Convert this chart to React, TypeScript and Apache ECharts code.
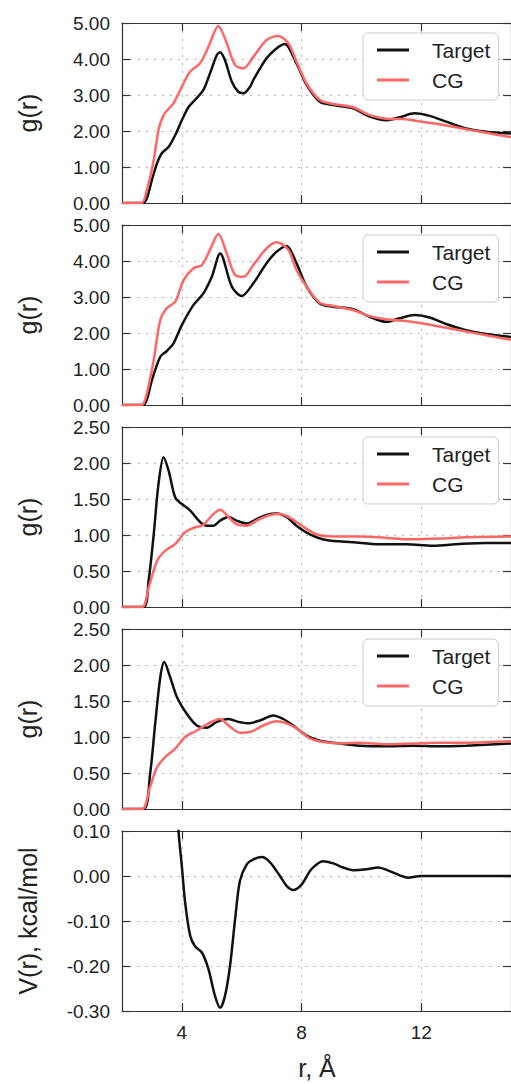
import React, { useEffect, useRef } from "react";
import * as echarts from "echarts";

// ---- data (r in Å, value) ----
const xTicks = [4, 8, 12];

const p1Target: [number, number][] = [
  [2.0, 0], [2.7, 0], [2.83, 0.13], [3.0, 0.64], [3.17, 1.1], [3.33, 1.38], [3.56, 1.56], [3.78, 1.89],
  [4.0, 2.3], [4.22, 2.66], [4.44, 2.86], [4.72, 3.14], [4.94, 3.6], [5.17, 4.11], [5.28, 4.19], [5.44, 3.97],
  [5.67, 3.37], [5.89, 3.09], [6.06, 3.05], [6.28, 3.23], [6.39, 3.42], [6.83, 4.02], [7.17, 4.3], [7.44, 4.42],
  [7.83, 3.88], [8.17, 3.28], [8.61, 2.81], [9.06, 2.72], [9.72, 2.63], [10.28, 2.4], [10.83, 2.3], [11.28, 2.38],
  [11.78, 2.49], [12.28, 2.42], [12.83, 2.26], [13.5, 2.07], [14.17, 1.98], [15, 1.93],
];
const p1CG: [number, number][] = [
  [2.0, 0], [2.65, 0], [2.83, 0.36], [3.06, 1.19], [3.22, 2.03], [3.39, 2.44], [3.56, 2.62], [3.72, 2.77],
  [4.0, 3.23], [4.28, 3.65], [4.61, 3.88], [4.89, 4.34], [5.22, 4.92], [5.5, 4.44], [5.78, 3.83], [6.06, 3.74],
  [6.39, 4.06], [6.83, 4.53], [7.22, 4.64], [7.56, 4.44], [7.83, 3.93], [8.17, 3.32], [8.61, 2.86], [9.06, 2.75],
  [9.72, 2.66], [10.28, 2.44], [10.83, 2.34], [11.39, 2.33], [12.0, 2.26], [12.61, 2.19], [13.5, 2.05],
  [14.17, 1.95], [15, 1.83],
];

const p2Target: [number, number][] = [
  [2.0, 0], [2.7, 0], [2.83, 0.15], [3.0, 0.69], [3.28, 1.34], [3.5, 1.5], [3.72, 1.71], [4.0, 2.22],
  [4.39, 2.78], [4.72, 3.1], [5.0, 3.56], [5.28, 4.21], [5.67, 3.29], [6.0, 3.03], [6.39, 3.38], [6.83, 3.94],
  [7.17, 4.26], [7.5, 4.42], [7.83, 3.94], [8.17, 3.29], [8.61, 2.82], [9.06, 2.73], [9.72, 2.66], [10.28, 2.45],
  [10.83, 2.31], [11.28, 2.41], [11.78, 2.5], [12.28, 2.43], [12.83, 2.25], [13.5, 2.08], [14.17, 1.97], [15, 1.89],
];
const p2CG: [number, number][] = [
  [2.0, 0], [2.65, 0], [2.83, 0.32], [3.06, 1.25], [3.28, 2.36], [3.5, 2.69], [3.78, 2.87], [4.06, 3.47],
  [4.39, 3.8], [4.67, 3.89], [4.94, 4.31], [5.22, 4.75], [5.5, 4.21], [5.78, 3.61], [6.06, 3.56], [6.39, 3.89],
  [6.83, 4.35], [7.17, 4.52], [7.56, 4.31], [7.83, 3.75], [8.17, 3.29], [8.61, 2.84], [9.06, 2.75], [9.72, 2.64],
  [10.28, 2.47], [10.83, 2.38], [11.39, 2.34], [12.0, 2.27], [12.61, 2.18], [13.5, 2.04], [14.17, 1.94], [15, 1.81],
];

const p3Target: [number, number][] = [
  [2.0, 0], [2.72, 0], [2.89, 0.37], [3.06, 1.01], [3.22, 1.71], [3.39, 2.08], [3.56, 1.89], [3.78, 1.52],
  [4.0, 1.43], [4.28, 1.34], [4.61, 1.18], [4.83, 1.13], [5.06, 1.13], [5.28, 1.2], [5.56, 1.25], [5.83, 1.2],
  [6.17, 1.16], [6.5, 1.22], [6.83, 1.28], [7.17, 1.3], [7.5, 1.25], [7.83, 1.13], [8.28, 1.01], [8.83, 0.93],
  [9.72, 0.9], [10.61, 0.87], [11.5, 0.87], [12.39, 0.85], [13.28, 0.875], [14.17, 0.89], [15, 0.89],
];
const p3CG: [number, number][] = [
  [2.0, 0], [2.67, 0], [2.89, 0.27], [3.17, 0.64], [3.44, 0.78], [3.78, 0.875], [4.11, 1.04], [4.39, 1.1],
  [4.72, 1.14], [5.0, 1.27], [5.28, 1.35], [5.56, 1.25], [5.83, 1.15], [6.17, 1.13], [6.5, 1.2], [6.89, 1.27],
  [7.28, 1.29], [7.61, 1.24], [8.0, 1.13], [8.5, 1.01], [9.06, 0.98], [9.94, 0.98], [10.83, 0.96], [11.72, 0.94],
  [12.61, 0.95], [13.5, 0.97], [15, 0.98],
];

const p4Target: [number, number][] = [
  [2.0, 0], [2.72, 0], [2.94, 0.49], [3.11, 1.19], [3.28, 1.83], [3.41, 2.04], [3.61, 1.83], [3.83, 1.56],
  [4.17, 1.32], [4.5, 1.16], [4.83, 1.13], [5.17, 1.21], [5.56, 1.25], [5.89, 1.21], [6.22, 1.19], [6.61, 1.23],
  [7.06, 1.3], [7.39, 1.25], [7.72, 1.16], [8.17, 1.02], [8.61, 0.95], [9.28, 0.91], [9.94, 0.88], [10.83, 0.87],
  [11.72, 0.88], [12.61, 0.87], [13.5, 0.88], [15, 0.91],
];
const p4CG: [number, number][] = [
  [2.0, 0], [2.67, 0], [2.94, 0.31], [3.17, 0.58], [3.44, 0.72], [3.78, 0.84], [4.11, 1.0], [4.5, 1.09],
  [4.89, 1.19], [5.28, 1.25], [5.56, 1.16], [5.94, 1.06], [6.28, 1.07], [6.72, 1.16], [7.17, 1.22], [7.5, 1.19],
  [7.83, 1.12], [8.28, 0.98], [8.72, 0.93], [9.28, 0.91], [9.94, 0.92], [10.83, 0.9], [11.72, 0.91], [12.61, 0.92],
  [13.5, 0.92], [15, 0.94],
];

const p5Potential: [number, number][] = [
  [3.75, 0.3], [3.89, 0.1], [4.0, 0.022], [4.11, -0.059], [4.28, -0.133], [4.44, -0.156], [4.67, -0.17],
  [4.89, -0.207], [5.11, -0.267], [5.28, -0.293], [5.44, -0.267], [5.61, -0.2], [5.78, -0.096], [5.94, -0.011],
  [6.17, 0.026], [6.39, 0.037], [6.67, 0.042], [6.94, 0.031], [7.28, 0], [7.5, -0.022], [7.72, -0.031],
  [8.0, -0.019], [8.33, 0.015], [8.72, 0.033], [9.06, 0.028], [9.39, 0.019], [9.72, 0.013], [10.17, 0.015],
  [10.56, 0.019], [10.94, 0.011], [11.28, 0.0015], [11.56, -0.004], [11.83, -0.001], [12.0, 0], [15, 0],
];

const FONT = "'Liberation Sans', Arial, Helvetica, sans-serif";
const BLACK = "#111111";
const RED = "#ff6666";

const GRID_LEFT = 122;
const GRID_WIDTH = 390;
const GRID_HEIGHT = 180;

type Panel = {
  top: number;
  yMin: number;
  yMax: number;
  yInt: number;
  title: string;
  target: [number, number][];
  cg?: [number, number][];
};

const panels: Panel[] = [
  { top: 23, yMin: 0, yMax: 5, yInt: 1, title: "g(r)", target: p1Target, cg: p1CG },
  { top: 225, yMin: 0, yMax: 5, yInt: 1, title: "g(r)", target: p2Target, cg: p2CG },
  { top: 427, yMin: 0, yMax: 2.5, yInt: 0.5, title: "g(r)", target: p3Target, cg: p3CG },
  { top: 629, yMin: 0, yMax: 2.5, yInt: 0.5, title: "g(r)", target: p4Target, cg: p4CG },
  { top: 831, yMin: -0.3, yMax: 0.1, yInt: 0.1, title: "V(r), kcal/mol", target: p5Potential },
];

function buildOption() {
  const grid: any[] = [];
  const xAxis: any[] = [];
  const yAxis: any[] = [];
  const series: any[] = [];
  const legend: any[] = [];
  const graphic: any[] = [];

  const axisLine = { show: true, onZero: false, lineStyle: { color: "#333", width: 1.2 } };
  const tick = { show: true, inside: true, length: 8, lineStyle: { color: "#333", width: 1.2 } };
  const split = { show: true, lineStyle: { color: "#b5b5b5", width: 1, type: [2, 6] } };

  panels.forEach((p, i) => {
    grid.push({ left: GRID_LEFT, top: p.top, width: GRID_WIDTH, height: GRID_HEIGHT, containLabel: false });
    const last = i === panels.length - 1;
    xAxis.push({
      type: "value", gridIndex: i, position: "bottom", min: 2, max: 15,
      axisLine, axisTick: { ...tick, customValues: xTicks },
      axisLabel: {
        show: last, customValues: xTicks, margin: 12, fontSize: 19, color: "#222", fontFamily: FONT,
      },
      splitLine: split,
    });
    xAxis.push({
      type: "value", gridIndex: i, position: "top", min: 2, max: 15,
      axisLine, axisTick: { ...tick, customValues: xTicks },
      axisLabel: { show: false }, splitLine: { show: false },
    });
    yAxis.push({
      type: "value", gridIndex: i, position: "left", min: p.yMin, max: p.yMax, interval: p.yInt,
      axisLine, axisTick: tick,
      axisLabel: {
        margin: 12, fontSize: 19, color: "#222", fontFamily: FONT,
        formatter: (v: number) => v.toFixed(2),
      },
      splitLine: split,
    });
    yAxis.push({
      type: "value", gridIndex: i, position: "right", min: p.yMin, max: p.yMax, interval: p.yInt,
      axisLine, axisTick: tick, axisLabel: { show: false }, splitLine: { show: false },
    });

    series.push({
      type: "line", name: "Target", xAxisIndex: 2 * i, yAxisIndex: 2 * i, data: p.target,
      smooth: 0.3, symbol: "none", showSymbol: false, clip: true, z: 3,
      lineStyle: { color: BLACK, width: 2.5 }, itemStyle: { color: BLACK },
    });
    if (p.cg) {
      series.push({
        type: "line", name: "CG", xAxisIndex: 2 * i, yAxisIndex: 2 * i, data: p.cg,
        smooth: 0.3, symbol: "none", showSymbol: false, clip: true, z: 4,
        lineStyle: { color: RED, width: 2.5 }, itemStyle: { color: RED },
      });
      legend.push({
        orient: "vertical", left: 363, top: p.top + 10, data: ["Target", "CG"],
        icon: "rect",
        backgroundColor: "#ffffff", borderColor: "#cccccc", borderWidth: 1, borderRadius: 5,
        padding: [2, 8, 5, 14], itemWidth: 32, itemHeight: 3, itemGap: 0,
        selectedMode: false,
        textStyle: { fontSize: 21, color: "#222", lineHeight: 30, fontFamily: FONT, padding: [0, 0, 0, 18] },
      });
    }

    graphic.push({
      type: "text", x: 28, y: p.top + GRID_HEIGHT / 2, rotation: Math.PI / 2,
      style: {
        text: p.title, fontSize: 25, fill: "#222", fontFamily: FONT,
        align: "center", verticalAlign: "middle",
      },
    });
  });

  graphic.push({
    type: "text", x: GRID_LEFT + 195, y: 1068,
    style: { text: "r, Å", fontSize: 25, fill: "#222", fontFamily: FONT, align: "center", verticalAlign: "middle" },
  });

  return {
    animation: false,
    backgroundColor: "#ffffff",
    textStyle: { fontFamily: FONT },
    grid, xAxis, yAxis, series, legend, graphic,
  };
}

export default function App() {
  const ref = useRef<HTMLDivElement>(null);
  useEffect(() => {
    if (!ref.current) return;
    const chart = echarts.init(ref.current, undefined, { renderer: "svg" });
    chart.setOption(buildOption() as any);
    return () => chart.dispose();
  }, []);
  return (
    <div
      ref={ref}
      style={{ position: "absolute", left: 0, top: 0, width: 511, height: 1084, background: "#fff" }}
    />
  );
}
